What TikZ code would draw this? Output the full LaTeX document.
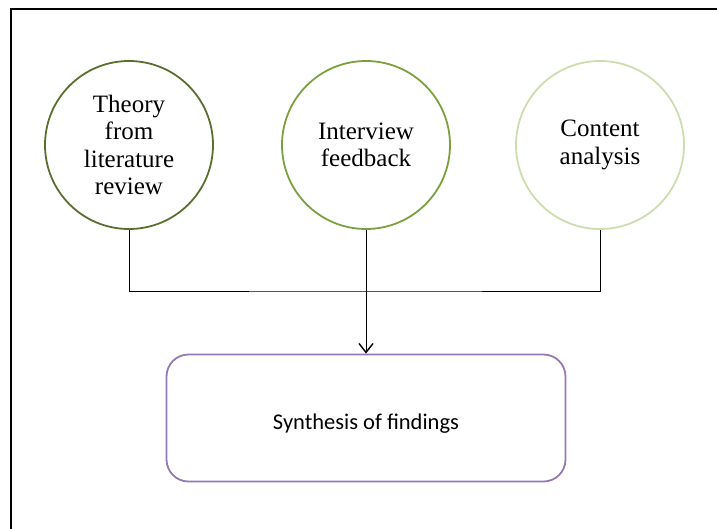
\documentclass[tikz,border=0pt]{standalone}
\usepackage{fontspec}
\setmainfont{Liberation Serif}
\newfontfamily\boxfont{Carlito}
\usetikzlibrary{arrows.meta,positioning}
\definecolor{olivedark}{HTML}{5A6E2D}
\definecolor{olivemid}{HTML}{7E9F3E}
\definecolor{olivelight}{HTML}{CDDDAF}
\definecolor{lavender}{HTML}{9479B5}

\begin{document}
\begin{tikzpicture}[x=1pt,y=-1pt,
    source/.style={circle, draw, line width=1.8pt, minimum size=168pt, inner sep=0pt, align=center, font=\fontsize{25}{27.5}\selectfont},
    result/.style={rectangle, draw=lavender, line width=1.8pt, rounded corners=22pt, minimum width=399pt, minimum height=127pt, text height=24pt, text depth=2pt, font=\boxfont\fontsize{22.5}{26}\selectfont},
    arrow/.style={-{Straight Barb[length=9pt,width=14pt,line width=1.4pt]}, line width=0.9pt}
]
    \useasboundingbox (0,0) rectangle (717,528);

    % Frame
    \draw[line width=2.5pt] (11,540) -- (11,9) -- (730,9);

    % Sources
    \node[source, draw=olivedark] (theory) at (129,145) {Theory\\from\\literature\\review};
    \node[source, draw=olivemid] (interview) at (366,145) {Interview\\feedback};
    \node[source, draw=olivelight] (content) at (600,145) {Content\\analysis};

    % Synthesis
    \node[result] (synth) at (366,418) {Synthesis of findings};

    % Connectors
    \coordinate (join) at (366,291);
    \draw[line width=0.9pt] (theory.south) |- (join) -| (content.south);
    \draw[line width=0.9pt] (interview.south) -- (join);
    \draw[arrow] (join) -- (synth.north);
\end{tikzpicture}
\end{document}
